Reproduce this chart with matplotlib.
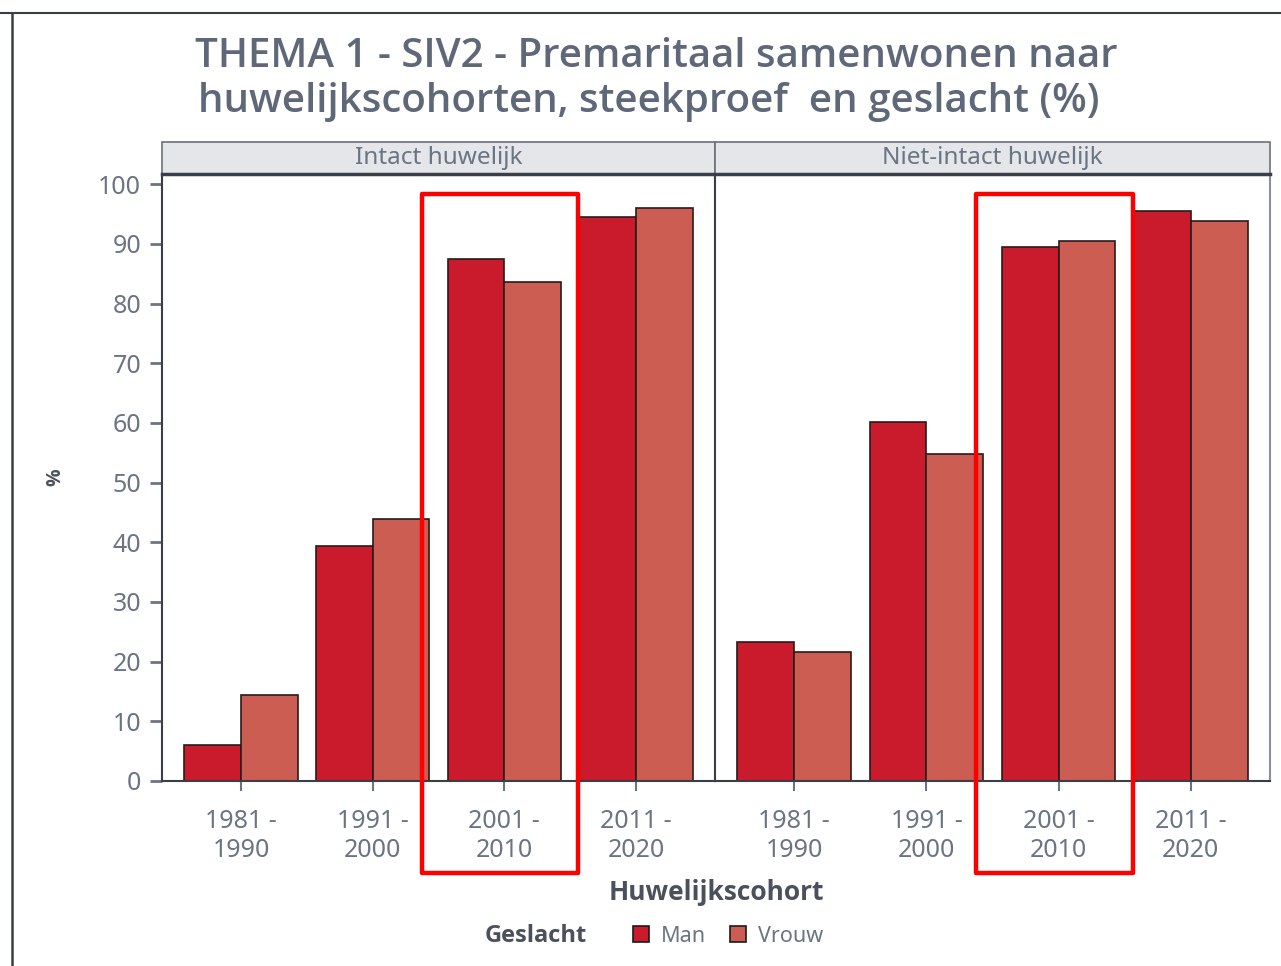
import numpy as np
import matplotlib
matplotlib.use("Agg")
import matplotlib.pyplot as plt
from matplotlib.patches import Rectangle, Patch
from matplotlib.lines import Line2D
import matplotlib.transforms as mtransforms

plt.rcParams['font.family'] = ['Noto Sans', 'DejaVu Sans']

# data
cohorts = ["1981 -\n1990", "1991 -\n2000", "2001 -\n2010", "2011 -\n2020"]
panels = ["Intact huwelijk", "Niet-intact huwelijk"]
man_intact = [6.0, 39.4, 87.4, 94.5]
vrouw_intact = [14.4, 43.9, 83.6, 96.0]
man_niet = [23.3, 60.1, 89.4, 95.5]
vrouw_niet = [21.6, 54.8, 90.5, 93.8]
yticks = [0, 10, 20, 30, 40, 50, 60, 70, 80, 90, 100]

man_col = "#C91B2B"
vrouw_col = "#CB5D52"
txt_col = "#6A7483"
dark = "#3A3F47"
bold_font = ['Open Sans', 'DejaVu Sans']

fig = plt.figure(figsize=(12.81, 9.66), dpi=100)
W, H = 1281, 966

def fx(px):
    return px / W

def fy(py):
    return 1 - py / H

ax_top, ax_bot = 174, 781
lefts = [162, 715]
rights = [715, 1270]
data = [(man_intact, vrouw_intact), (man_niet, vrouw_niet)]
x = np.arange(len(cohorts))
bw = 0.43

axes = []
for i in range(2):
    ax = fig.add_axes([fx(lefts[i]), fy(ax_bot), fx(rights[i] - lefts[i]), (ax_bot - ax_top) / H])
    m, v = data[i]
    ax.bar(x - bw / 2, m, bw, color=man_col, edgecolor="#2a1a1a", linewidth=1.2)
    ax.bar(x + bw / 2, v, bw, color=vrouw_col, edgecolor="#2a1a1a", linewidth=1.2)
    ax.set_xlim(-0.6, 3.6)
    ax.set_ylim(0, 101.7)
    ax.set_xticks(x)
    ax.set_xticklabels(cohorts, fontsize=18, color=txt_col, linespacing=1.2)
    ax.tick_params(axis='x', length=7, width=1.5, color=txt_col, pad=13)
    if i == 0:
        ax.set_yticks(yticks)
        ax.set_yticklabels([str(t) for t in yticks], fontsize=18, color=txt_col)
        ax.tick_params(axis='y', length=9, width=2, color=txt_col, pad=6)
    else:
        ax.set_yticks([])
    for s in ax.spines.values():
        s.set_color(dark)
        s.set_linewidth(1.5)
    ax.spines['right'].set_color("#8a9099")
    ax.spines['top'].set_linewidth(2.5)
    # strip
    strip = Rectangle((0, 1.0), 1, 32 / (ax_bot - ax_top), transform=ax.transAxes,
                      facecolor="#E4E6EA", edgecolor="#6b717a", linewidth=1.2, clip_on=False)
    ax.add_patch(strip)
    ax.text(0.5, 1.0 + 16 / (ax_bot - ax_top), panels[i], transform=ax.transAxes,
            ha='center', va='center', fontsize=17.5, color=txt_col)
    axes.append(ax)

# title
fig.text(fx(195), fy(57), "THEMA 1 - SIV2 - Premaritaal samenwonen naar", fontsize=29,
         color="#5E6878", ha='left', va='center', family=bold_font, fontweight='semibold')
fig.text(fx(198), fy(102), "huwelijkscohorten, steekproef  en geslacht (%)", fontsize=29,
         color="#5E6878", ha='left', va='center', family=bold_font, fontweight='semibold')

# axis titles
fig.text(fx(716), fy(893), "Huwelijkscohort", fontsize=19, fontweight='bold',
         family=bold_font, color="#4A515C", ha='center', va='center')
fig.text(fx(55), fy(477), "%", fontsize=14, fontweight='bold', family=bold_font,
         color="#4A515C", ha='center', va='center', rotation=90)

# legend
fig.text(fx(536), fy(936), "Geslacht", fontsize=17, fontweight='bold', family=bold_font,
         color="#4A515C", ha='center', va='center')
handles = [Patch(facecolor=man_col, edgecolor="#1a1a1a", linewidth=1.2, label="Man"),
           Patch(facecolor=vrouw_col, edgecolor="#1a1a1a", linewidth=1.2, label="Vrouw")]
leg = fig.legend(handles=handles, loc='center left', bbox_to_anchor=(fx(622), fy(936)),
                 ncol=2, frameon=False, fontsize=15.5, handlelength=0.75, handleheight=0.75,
                 handletextpad=0.55, columnspacing=1.1, borderpad=0)
for t in leg.get_texts():
    t.set_color(txt_col)

# red highlight boxes around 2001-2010
for ax in axes:
    tr = mtransforms.blended_transform_factory(ax.transData, fig.transFigure)
    r = Rectangle((1.375, fy(873)), 2.56 - 1.375, (873 - 194) / H, transform=tr,
                  fill=False, edgecolor="#FF0000", linewidth=3.2, clip_on=False,
                  joinstyle='round', zorder=10)
    fig.add_artist(r)

# screenshot frame lines
fig.add_artist(Line2D([0, 1], [fy(13), fy(13)], transform=fig.transFigure, color=dark, linewidth=1.5))
fig.add_artist(Line2D([fx(12), fx(12)], [fy(13), 0], transform=fig.transFigure, color=dark, linewidth=1.8))

fig.savefig("out.png", dpi=100)
